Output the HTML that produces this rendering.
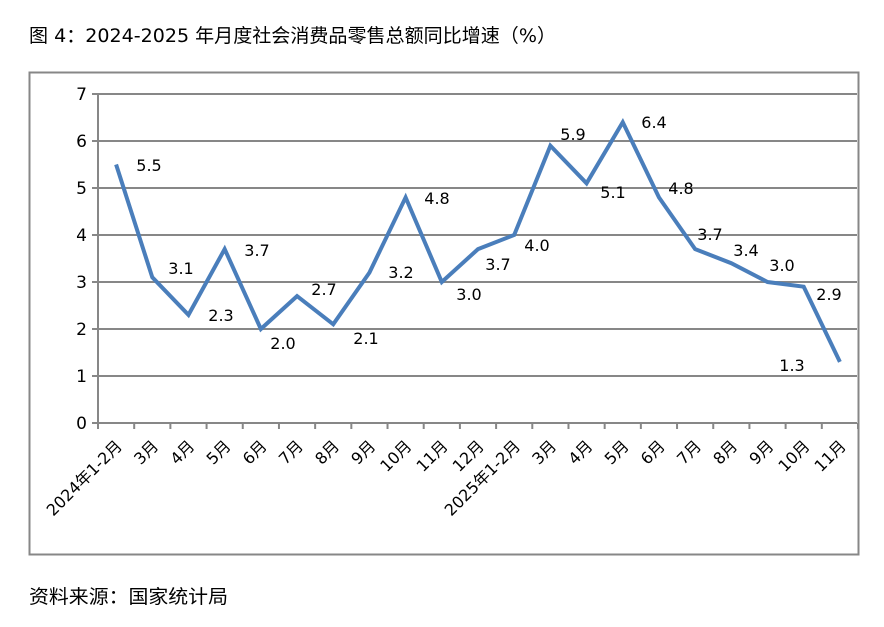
<!DOCTYPE html>
<html><head><meta charset="utf-8"><style>
body{margin:0;background:#fff;}
svg{display:block;font-family:"DejaVu Sans","Noto Sans CJK SC",sans-serif;}
</style></head><body>
<svg width="884" height="627" viewBox="0 0 884 627" xmlns="http://www.w3.org/2000/svg">
<text x="29" y="42" font-size="19" fill="#000" textLength="527" lengthAdjust="spacingAndGlyphs">图 4：2024-2025 年月度社会消费品零售总额同比增速（%）</text>
<rect x="29.5" y="72.5" width="829" height="482" fill="none" stroke="#878787" stroke-width="2"/>
<g stroke="#878787" stroke-width="2">
<line x1="92" y1="94" x2="857" y2="94"/>
<line x1="92" y1="141" x2="857" y2="141"/>
<line x1="92" y1="188" x2="857" y2="188"/>
<line x1="92" y1="235" x2="857" y2="235"/>
<line x1="92" y1="282" x2="857" y2="282"/>
<line x1="92" y1="329" x2="857" y2="329"/>
<line x1="92" y1="376" x2="857" y2="376"/>
<line x1="92" y1="423" x2="857" y2="423"/>
<line x1="98" y1="94" x2="98" y2="429"/>
</g>
<g id="ticks" stroke="#878787" stroke-width="2"></g>
<g font-size="17" text-anchor="end" fill="#000">
<text x="87" y="100">7</text><text x="87" y="147">6</text><text x="87" y="194">5</text><text x="87" y="241">4</text>
<text x="87" y="288">3</text><text x="87" y="335">2</text><text x="87" y="382">1</text><text x="87" y="429">0</text>
</g>
<g id="xl" font-size="16" text-anchor="end" fill="#000"></g>
<polyline id="ln" fill="none" stroke="#4a7ebb" stroke-width="4" stroke-linejoin="miter"/>
<g id="dl" font-size="16" text-anchor="middle" fill="#000"></g>
<text x="29" y="603" font-size="19" fill="#000" textLength="199" lengthAdjust="spacingAndGlyphs">资料来源：国家统计局</text>
<script>
var d=[5.5,3.1,2.3,3.7,2.0,2.7,2.1,3.2,4.8,3.0,3.7,4.0,5.9,5.1,6.4,4.8,3.7,3.4,3.0,2.9,1.3];
var lab=["2024年1-2月","3月","4月","5月","6月","7月","8月","9月","10月","11月","12月","2025年1-2月","3月","4月","5月","6月","7月","8月","9月","10月","11月"];
var pos=[[149,165],[181,268],[221,315],[257,250],[283,343],[324,289],[366,338],[401,272],[437,198],[469,294],[498,264],[537,245],[573,134],[613,192],[654,122],[681,188],[710,234],[746,250],[782,265],[829,294],[792,365]];
var w=760/21,ns="http://www.w3.org/2000/svg",pts=[];
var tk=document.getElementById('ticks'),xl=document.getElementById('xl'),dl=document.getElementById('dl');
for(var i=0;i<=21;i++){var l=document.createElementNS(ns,'line');var x=98+w*i;l.setAttribute('x1',x);l.setAttribute('x2',x);l.setAttribute('y1',423);l.setAttribute('y2',429);tk.appendChild(l);}
for(var i=0;i<21;i++){var cx=98+w*(i+0.5);pts.push(cx+','+(423-d[i]*47));
var t=document.createElementNS(ns,'text');t.setAttribute('transform','translate('+(cx+7)+',447) rotate(-45)');t.textContent=lab[i];xl.appendChild(t);
var e=document.createElementNS(ns,'text');e.setAttribute('x',pos[i][0]);e.setAttribute('y',pos[i][1]+6);e.textContent=d[i].toFixed(1);dl.appendChild(e);}
document.getElementById('ln').setAttribute('points',pts.join(' '));
</script>
</svg>
</body></html>
